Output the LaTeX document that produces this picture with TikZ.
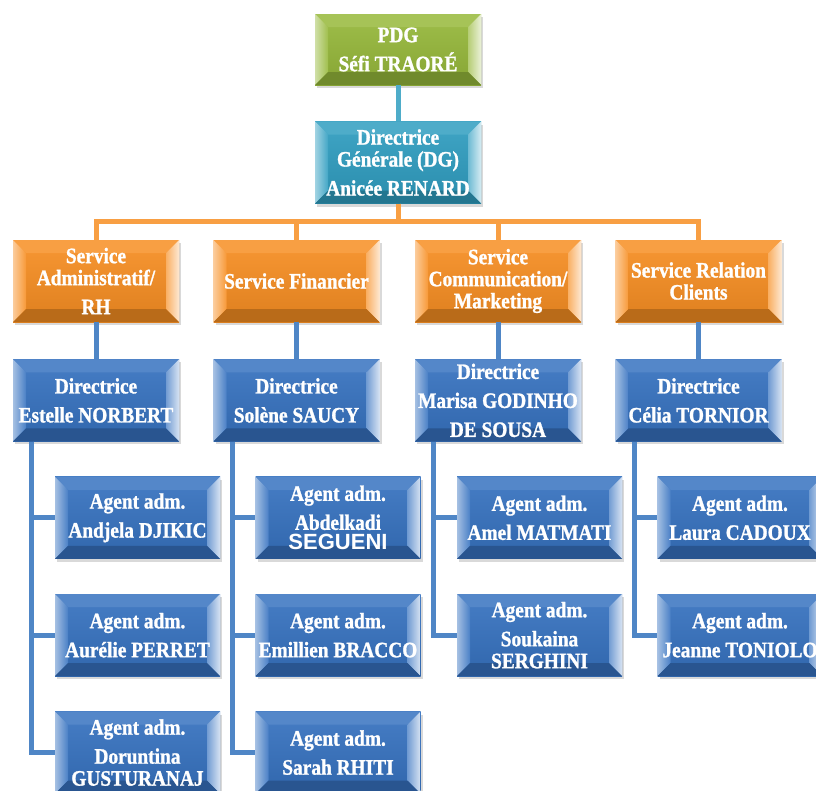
\documentclass[tikz,border=0pt]{standalone}
\usepackage{fontspec}
\setmainfont[FakeStretch=0.88, BoldFeatures={FakeBold=1.2}]{Liberation Serif}
\newfontfamily\namefont{Liberation Sans}
\usetikzlibrary{positioning,shadows}
\definecolor{pdggreen}{HTML}{96B83A}
\definecolor{dgteal}{HTML}{2F9DC0}
\definecolor{servorange}{HTML}{F78E22}
\definecolor{dirblue}{HTML}{3672C0}
\definecolor{linkblue}{HTML}{4F86C6}
\tikzset{
chart box/.style = {
    top color=#1!92!white, bottom color=#1!90!black,
    minimum width=166pt, minimum height=82pt,
    inner sep=0pt, align=center, text=white,
    font=\fontsize{22}{22}\selectfont\bfseries,
    drop shadow={opacity=0.3, shadow xshift=2pt, shadow yshift=-3pt},
    path picture={
      \coordinate (nw) at (path picture bounding box.north west);
      \coordinate (ne) at (path picture bounding box.north east);
      \coordinate (sw) at (path picture bounding box.south west);
      \coordinate (se) at (path picture bounding box.south east);
      \coordinate (inw) at ([shift={(13pt,-13pt)}]nw);
      \coordinate (ine) at ([shift={(-13pt,-13pt)}]ne);
      \coordinate (isw) at ([shift={(13pt,13pt)}]sw);
      \coordinate (ise) at ([shift={(-13pt,13pt)}]se);
      \fill[#1!85!white] (nw) -- (ne) -- (ine) -- (inw) -- cycle;
      \shade[left color=#1!45!white, right color=#1!90!white] (nw) -- (inw) -- (isw) -- (sw) -- cycle;
      \shade[left color=#1!70!white, right color=#1!20!white] (ne) -- (ine) -- (ise) -- (se) -- cycle;
      \fill[#1!75!black] (sw) -- (isw) -- (ise) -- (se) -- cycle;
    }
  },
pdg box/.style = {chart box=pdggreen, minimum height=71pt},
dg box/.style = {chart box=dgteal},
service box/.style = {chart box=servorange},
dir box/.style = {chart box=dirblue},
agent box/.style = {chart box=dirblue, minimum width=165pt},
teal link/.style = {draw=dgteal!85!white, line width=5pt},
orange link/.style = {draw=servorange!85!white, line width=5pt},
blue link/.style = {draw=linkblue, line width=5pt}
}
\def\AgentColumn#1#2{%
  \coordinate (aux) at ([xshift=41.5pt]#1.south);
  \foreach \agent [count=\i] in {#2} {
     \node[agent box, below=35pt of aux, name=#1-\i] {Agent adm.\\[7pt]\agent};
     \draw[blue link] ([xshift=19pt]#1.south west) |- (#1-\i.west);
     \coordinate (aux) at (#1-\i.south);
  }
}

\begin{document}
\begin{tikzpicture}[x=1pt, y=1pt]
\useasboundingbox (0,0) rectangle (816,-790);
\clip (0,0) rectangle (816,-790);
% direction
\node[pdg box] (pdg) at (398,-49.5) {PDG\\[7pt]Séfi TRAORÉ};
\node[dg box] (dg) at (398,-162.5) {Directrice\\Générale (DG)\\[7pt]Anicée RENARD};
\draw[teal link] (pdg.south) -- (dg.north);
% services
\node[service box] (admin) at (96,-281) {Service\\Administratif/\\[7pt]RH};
\node[service box] (fin) at (296.5,-281) {Service Financier};
\node[service box] (comm) at (498,-281) {Service\\Communication/\\Marketing};
\node[service box] (rel) at (698.5,-281) {Service Relation\\Clients};
\foreach \svc in {admin, fin, comm, rel}
  \draw[orange link] (dg.south) -- ++(0,-18pt) -| (\svc.north);
% directrices
\node[dir box, below=37pt of admin] (dadmin) {Directrice\\[7pt]Estelle NORBERT};
\node[dir box, below=37pt of fin] (dfin) {Directrice\\[7pt]Solène SAUCY};
\node[dir box, below=37pt of comm] (dcomm) {Directrice\\[7pt]Marisa GODINHO\\[7pt]DE SOUSA};
\node[dir box, below=37pt of rel] (drel) {Directrice\\[7pt]Célia TORNIOR};
\foreach \svc/\dir in {admin/dadmin, fin/dfin, comm/dcomm, rel/drel}
  \draw[blue link] (\svc.south) -- (\dir.north);
% agents
\AgentColumn{dadmin}{Andjela DJIKIC, Aurélie PERRET, Doruntina\\GUSTURANAJ}
\AgentColumn{dfin}{Abdelkadi\\[-2pt]{\namefont\fontsize{22}{22}\selectfont SEGUENI}, Emillien BRACCO, Sarah RHITI}
\AgentColumn{dcomm}{Amel MATMATI, Soukaina\\SERGHINI}
\AgentColumn{drel}{Laura CADOUX, Jeanne TONIOLO}
\end{tikzpicture}
\end{document}
